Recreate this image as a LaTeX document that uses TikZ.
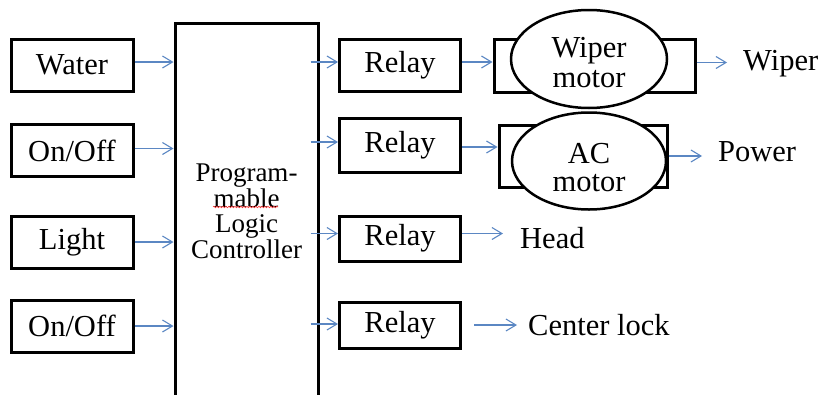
\documentclass[tikz,border=0pt]{standalone}
\usepackage{fontspec}
\setmainfont{Liberation Serif}
\usetikzlibrary{arrows.meta,shapes.geometric,decorations.pathmorphing}
\definecolor{arr}{RGB}{91,135,195}
\begin{document}
\begin{tikzpicture}[x=1pt,y=-1pt,
 box/.style={draw,line width=3pt,minimum width=122pt,minimum height=52pt,inner sep=0pt,font=\fontsize{30.5}{30}\selectfont},
 lbl/.style={inner sep=0pt,font=\fontsize{30.5}{30}\selectfont},
 conn/.style={draw=arr,line width=1.1pt,-{Straight Barb[length=10pt,width=12pt,line width=1.1pt]}},
 motorbox/.style={draw,line width=3pt,inner sep=0pt},
 motorell/.style={draw,ellipse,fill=white,line width=2.5pt,inner sep=0pt}]
\useasboundingbox (0,0) rectangle (832,394);
% inputs
\node[box] (water) at (72,65) {Water};
\node[box] (onoff1) at (72,150.5) {On/Off};
\node[box] (light) at (72,242) {Light};
\node[box] (onoff2) at (72,326) {On/Off};
% PLC
\node[draw,line width=3pt,minimum width=143pt,minimum height=377pt,inner sep=0pt,align=center,
  font=\fontsize{27}{25.5}\selectfont] (plc) at (246.5,211.5) {Program-\\mable\\Logic\\Controller};
\coordinate (sq1) at (213,207);
\coordinate (sq2) at (278,207);
\draw[red!80,line width=0.6pt,decorate,decoration={snake,segment length=3pt,amplitude=0.8pt}] (sq1) -- (sq2);
% relays
\node[box,minimum width=121pt] (r1) at (400,65) {Relay};
\node[box,minimum width=121pt,minimum height=54pt] (r2) at (400,145) {Relay};
\node[box,minimum width=121pt,minimum height=45pt] (r3) at (400,238.5) {Relay};
\node[box,minimum width=121pt,minimum height=46pt] (r4) at (400,325) {Relay};
% wiper motor
\node[motorbox,minimum width=201pt,minimum height=53pt] (wbox) at (594.5,65.5) {};
\node[motorell,minimum width=156pt,minimum height=98pt] (well) at (589,59) {};
\node[lbl,align=center] (wtxt) at (589,63) {Wiper\\motor};
% AC motor
\node[motorbox,minimum width=168pt,minimum height=62pt] (abox) at (583,156) {};
\node[motorell,minimum width=154pt,minimum height=97pt] (aell) at (589,161) {};
\node[lbl,align=center,font=\fontsize{30.5}{28}\selectfont] (atxt) at (589,168) {AC\\motor};
% output labels
\node[lbl,anchor=west] (wiper) at (743,64) {Wiper};
\node[lbl,anchor=west] (power) at (718,152) {Power};
\node[lbl,anchor=west] (head) at (520,238) {Head};
\node[lbl,anchor=west] (lock) at (528,325) {Center lock};
% connectors: inputs
\draw[conn] ([yshift=3pt]water.east) -- ([yshift=3pt]water.east -| plc.west);
\draw[conn] ([yshift=2pt]onoff1.east) -- ([yshift=2pt]onoff1.east -| plc.west);
\draw[conn] (light.east) -- (light.east -| plc.west);
\draw[conn] (onoff2.east) -- (onoff2.east -| plc.west);
% connectors: PLC to relays
\draw[conn] ([xshift=-9pt,yshift=3pt]r1.west -| plc.east) -- ([yshift=3pt]r1.west);
\draw[conn] ([xshift=-9pt,yshift=3pt]r2.west -| plc.east) -- ([yshift=3pt]r2.west);
\draw[conn] ([xshift=-9pt,yshift=5pt]r3.west -| plc.east) -- ([yshift=5pt]r3.west);
\draw[conn] ([xshift=-9pt,yshift=1pt]r4.west -| plc.east) -- ([yshift=1pt]r4.west);
% relays to motors / outputs
\draw[conn] ([yshift=3pt]r1.east) -- ([yshift=3pt]r1.east -| wbox.west);
\draw[conn] ([yshift=-2pt]r2.east) -- ([yshift=-2pt]r2.east -| abox.west);
\draw[conn] ([yshift=5pt]r3.east) -- ([xshift=-17pt,yshift=5pt]r3.east -| head.west);
\draw[conn] ([xshift=12pt]r4.east) -- ([xshift=-11pt]r4.east -| lock.west);
\draw[conn] ([yshift=3pt]wbox.east) -- ([xshift=-16pt,yshift=3pt]wbox.east -| wiper.west);
\draw[conn] (abox.east) -- ([xshift=-16pt]abox.east -| power.west);
\end{tikzpicture}
\end{document}
